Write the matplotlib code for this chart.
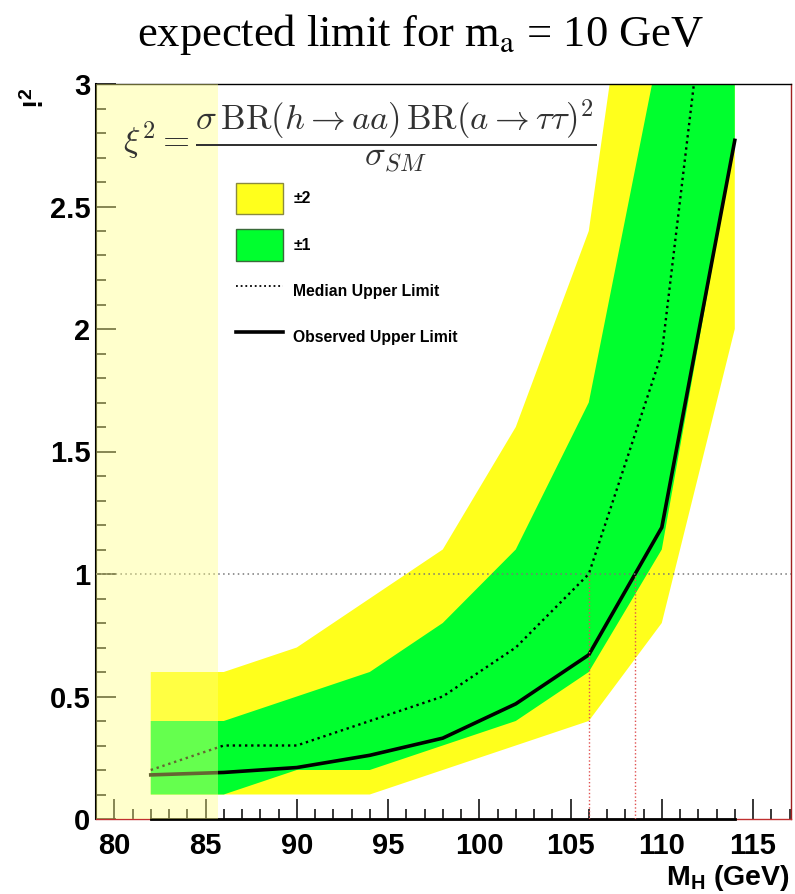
import matplotlib
matplotlib.use("Agg")
import matplotlib.pyplot as plt
import numpy as np
from matplotlib.patches import Patch
from matplotlib.lines import Line2D
from matplotlib.ticker import MultipleLocator, FuncFormatter

# ---- data ----
mass = [82, 86, 90, 94, 98, 102, 106, 110, 114]
observed = [0.18, 0.19, 0.21, 0.26, 0.33, 0.47, 0.67, 1.19, 2.77]
median = [0.20, 0.30, 0.30, 0.40, 0.50, 0.70, 1.00, 1.90, 4.40]
minus2 = [0.10, 0.10, 0.10, 0.10, 0.20, 0.30, 0.40, 0.80, 2.00]
minus1 = [0.10, 0.10, 0.20, 0.20, 0.30, 0.40, 0.60, 1.10, 2.77]
plus1 = [0.40, 0.40, 0.50, 0.60, 0.80, 1.10, 1.70, 3.20, 5.00]
plus2 = [0.60, 0.60, 0.70, 0.90, 1.10, 1.60, 2.40, 4.50, 6.50]
excluded_region = [79.0, 85.7]
reference_level = 1.0
x_ticks = [80, 85, 90, 95, 100, 105, 110, 115]
y_ticks = [0, 0.5, 1, 1.5, 2, 2.5, 3]
legend_labels = ["\u00b12", "\u00b11", "Median Upper Limit", "Observed Upper Limit"]
title = "expected limit for m$_\\mathrm{a}$ = 10 GeV"

plt.rcParams['mathtext.fontset'] = 'cm'
plt.rcParams['mathtext.bf'] = 'Liberation Sans:bold'
plt.rcParams['mathtext.rm'] = 'Liberation Sans'
SANS = ['Liberation Sans', 'DejaVu Sans']

W, H = 795, 894
fig = plt.figure(figsize=(W / 100, H / 100), dpi=100)
ax = fig.add_axes([96 / W, 1 - 819 / H, (791 - 96) / W, (819 - 84) / H])

YELLOW = '#ffff1c'
GREEN = '#00ff2e'

ax.fill_between(mass, minus2, plus2, color=YELLOW, lw=0, zorder=1)
ax.fill_between(mass, minus1, plus1, color=GREEN, lw=0, zorder=2)
ax.plot(mass, median, color='black', ls=(0, (1.0, 1.6)), lw=1.7, zorder=4)
ax.plot(mass, observed, color='black', ls='-', lw=2.6, zorder=5)
ax.plot([mass[0], mass[-1]], [0, 0], color='black', lw=2.0, zorder=6, clip_on=False)

# crossing points with the reference level
x_med = np.interp(reference_level, median, mass)
x_obs = np.interp(reference_level, observed, mass)
ax.axhline(reference_level, color='#777777', ls=(0, (1, 2.2)), lw=1.1, zorder=6)
for xc in (x_med, x_obs):
    ax.plot([xc, xc], [0, reference_level], color='#e05050', ls=(0, (1, 1.6)), lw=1.0, zorder=6)

ax.set_xlim(79, 117.08)
ax.set_ylim(0, 3)

# formula
fig.text(123 / W, 1 - 136 / H,
         r'$\xi^2 = \dfrac{\sigma\,\mathrm{BR}(h \rightarrow aa)\,\mathrm{BR}(a \rightarrow \tau\tau)^2}{\sigma_{SM}}$',
         fontsize=25, color='#333333', ha='left', va='center', zorder=7, math_fontfamily='cm')

# excluded region overlay
ax.axvspan(excluded_region[0], excluded_region[1], color=(1, 1, 0.5), alpha=0.4, lw=0, zorder=8)

# axes styling
ax.set_xticks(x_ticks)
ax.set_yticks(y_ticks)
ax.xaxis.set_minor_locator(MultipleLocator(1))
ax.yaxis.set_minor_locator(MultipleLocator(0.1))
ax.yaxis.set_major_formatter(FuncFormatter(lambda v, p: f"{v:g}"))
ax.tick_params(which='both', direction='in', top=False, right=False, color='black', width=1.1)
ax.tick_params(which='major', length=14.5)
ax.tick_params(which='minor', length=7.5)
ax.tick_params(axis='x', which='major', pad=9)
ax.tick_params(axis='y', which='major', pad=4)
for lab in ax.get_xticklabels() + ax.get_yticklabels():
    lab.set_fontfamily(SANS)
    lab.set_fontweight('bold')
    lab.set_fontsize(21)
for s in ax.spines.values():
    s.set_zorder(3)
ax.spines['top'].set_color('black')
ax.spines['top'].set_linewidth(1.0)
ax.spines['left'].set_color('black')
ax.spines['left'].set_linewidth(1.5)
ax.spines['right'].set_color('#a02020')
ax.spines['right'].set_linewidth(1.0)
ax.spines['bottom'].set_color('#c03030')
ax.spines['bottom'].set_linewidth(1.0)

# legend
handles = [Patch(facecolor=YELLOW, edgecolor='#8a8a40', lw=1.0),
           Patch(facecolor=GREEN, edgecolor='#3a6a3a', lw=1.0),
           Line2D([], [], color='black', ls=(0, (1, 1.6)), lw=1.3),
           Line2D([], [], color='black', ls='-', lw=2.6)]
leg = ax.legend(handles, legend_labels, loc='upper left',
                bbox_to_anchor=((236 - 96) / (791 - 96), (819 - 183) / (819 - 84)),
                frameon=False, borderpad=0, borderaxespad=0,
                handlelength=3.0, handleheight=2.7, handletextpad=0.65,
                labelspacing=0.95, prop={'family': SANS, 'weight': 'bold', 'size': 11.3})
leg.set_zorder(9)

# axis labels
fig.text(790 / W, 1 - 885 / H, r'M$_\mathbf{H}$ (GeV)', fontsize=20.5, fontweight='bold',
         family=SANS, ha='right', va='baseline', math_fontfamily='custom')
fig.text(36 / W, 1 - 98 / H, '!$^\\mathbf{2}$', fontsize=20, fontweight='bold',
         family=SANS, rotation=90, ha='center', va='center', math_fontfamily='custom')

# title
fig.text(421 / W, 1 - 46 / H, title, fontsize=32, family=['Liberation Serif', 'DejaVu Serif'],
         ha='center', va='baseline', math_fontfamily='stix')

fig.savefig('out.png', dpi=100)
